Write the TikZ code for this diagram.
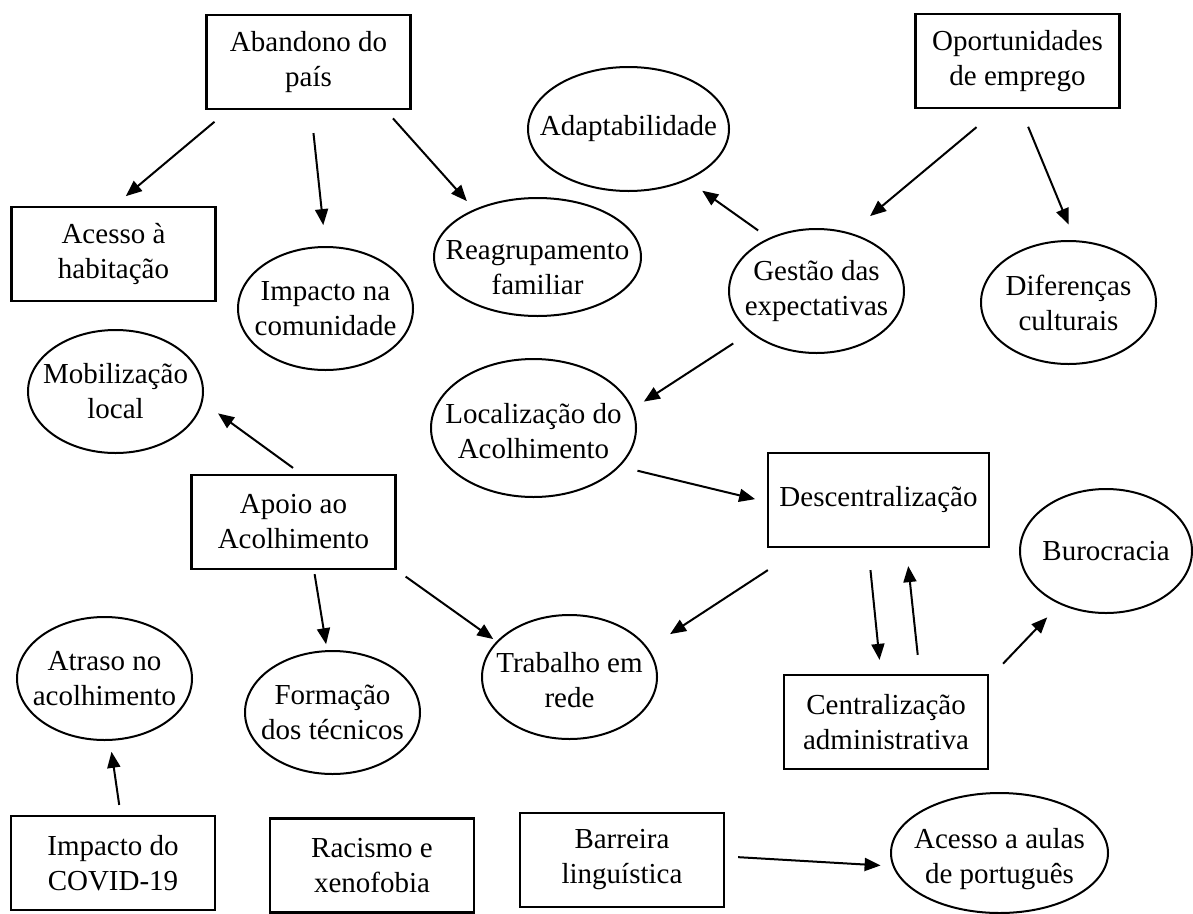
\documentclass[tikz,border=0pt]{standalone}
\usepackage{fontspec}
\setmainfont{Liberation Serif}
\usetikzlibrary{arrows.meta}
\usetikzlibrary{shapes.geometric}
\tikzset{
	box/.style={draw=black, line width=2.4pt, rectangle, minimum width=204pt, minimum height=94pt, inner sep=0pt, align=center, font=\fontsize{29pt}{35pt}\selectfont},
	oval/.style 2 args={draw=black, line width=2pt, ellipse, minimum width=#1, minimum height=#2, inner xsep=-30pt, inner ysep=0pt, align=center, font=\fontsize{29pt}{35pt}\selectfont},
	arr/.style={-{Triangle[length=16pt, width=13pt]}, line width=2pt}
}
\begin{document}
\begin{tikzpicture}[x=1pt, y=-1pt]

	\useasboundingbox (0,0) rectangle (1193,913);

	% boxes
	\node[box] (aband)    at (308.5, 62)  {Abandono do\\país};
	\node[box] (acesso)   at (113.5, 254) {Acesso à\\habitação};
	\node[box] (oport)    at (1017.5, 61) {Oportunidades\\de emprego};
	\node[box] (apoio)    at (293.5, 522) {Apoio ao\\Acolhimento};
	\node[box, minimum width=221pt] (descent) at (878.5, 500) {Descentralização};
	\node[box] (central)  at (886, 722)   {Centralização\\administrativa};
	\node[box] (covid)    at (113, 863)   {Impacto do\\COVID-19};
	\node[box] (racismo)  at (372, 865.5) {Racismo e\\xenofobia};
	\node[box] (barreira) at (622, 860)   {Barreira\\linguística};

	% ellipses
	\node[oval={175pt}{123pt}] (impacto)  at (325.5, 308.5) {Impacto na\\comunidade};
	\node[oval={207pt}{118pt}, text height=76pt] (reagrup) at (537.5, 257) {Reagrupamento\\familiar};
	\node[oval={201pt}{124pt}] (adapt)    at (628.5, 129)   {Adaptabilidade};
	\node[oval={175pt}{124pt}] (gestao)   at (816.5, 291)   {Gestão das\\expectativas};
	\node[oval={175pt}{123pt}] (difer)    at (1068.5, 302.5) {Diferenças\\culturais};
	\node[oval={175pt}{123pt}] (mobil)    at (115.5, 391.5) {Mobilização\\local};
	\node[oval={205pt}{138pt}, text height=62pt] (local) at (533.5, 428) {Localização do\\Acolhimento};
	\node[oval={172pt}{124pt}] (burocr)   at (1106, 551)    {Burocracia};
	\node[oval={175pt}{123pt}] (atraso)   at (104.5, 678.5) {Atraso no\\acolhimento};
	\node[oval={175pt}{123pt}] (formacao) at (332.5, 712.5) {Formação\\dos técnicos};
	\node[oval={175pt}{124pt}, text height=62pt] (trabalho) at (569.5, 677) {Trabalho em\\rede};
	\node[oval={217pt}{120pt}, text height=68pt] (aulas) at (999.5, 853) {Acesso a aulas\\de português};

	% abandono do país
	\draw[arr, shorten <=18pt, shorten >=15pt] (aband.-149) -- (acesso.89);
	\draw[arr, shorten <=23pt, shorten >=21pt] (aband.-87) -- (impacto.90);
	\draw[arr, shorten <=11pt, shorten >=11pt] (aband.-32) -- (reagrup.143);

	% oportunidades / expectativas
	\draw[arr, shorten <=28pt, shorten >=26pt] (oport.-112) -- (gestao.60);
	\draw[arr, shorten <=19pt, shorten >=17pt] (oport.-86) -- (difer.84);
	\draw[arr, shorten <=13pt, shorten >=18pt] (gestao.132) -- (adapt.-41);
	\draw[arr, shorten <=20pt, shorten >=13pt] (gestao.-148) -- (local.11);

	% apoio ao acolhimento
	\draw[arr, shorten <=10pt, shorten >=19pt] (apoio.81) -- (mobil.-7);
	\draw[arr, shorten <=4pt, shorten >=6pt] (apoio.-67) -- (formacao.95);
	\draw[arr, shorten <=11pt, shorten >=4pt] (apoio.south east) -- (trabalho.154);

	% descentralização
	\draw[arr, shorten <=18pt, shorten >=12pt] (local.-24) -- (descent.181);
	\draw[arr, shorten <=40pt, shorten >=26pt] (descent.-148) -- (trabalho.20);
	\draw[arr, shorten <=22pt, shorten >=14pt] (descent.-102) -- (central.96);
	\draw[arr, shorten <=19pt, shorten >=18pt] (central.55) -- (descent.-60);
	\draw[arr, shorten <=20pt, shorten >=18pt] (central.23) -- (burocr.-131);

	% bottom row
	\draw[arr, shorten <=10pt, shorten >=11pt] (covid.81) -- (atraso.-85);
	\draw[arr, shorten <=13pt, shorten >=12pt] (barreira.2) -- (aulas.187);

\end{tikzpicture}
\end{document}
